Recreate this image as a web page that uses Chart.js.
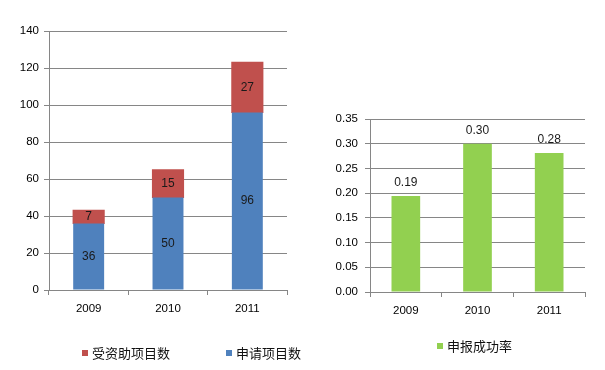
<!DOCTYPE html>
<html>
<head>
<meta charset="utf-8">
<script src="https://cdn.jsdelivr.net/npm/chart.js@4"></script>
<style>
  body { margin: 0; background: #fff; }
  #wrap { position: relative; width: 605px; height: 370px; overflow: hidden; }
  .box { position: absolute; }
  .leg { position: absolute; font-family: "Noto Sans CJK SC", sans-serif; font-size: 13px; color: #111; line-height: 16px; white-space: nowrap; }
  .sq { position: absolute; width: 6px; height: 6px; }
</style>
</head>
<body>
<div id="wrap">
  <div class="box" style="left:0;top:0;width:300px;height:370px;"><canvas id="chartLeft"></canvas></div>
  <div class="box" style="left:300px;top:100px;width:305px;height:270px;"><canvas id="chartRight"></canvas></div>

  <div class="sq" style="left:82px;top:350px;background:#c0504d;"></div>
  <div class="leg" style="left:92px;top:345px;">受资助项目数</div>
  <div class="sq" style="left:226px;top:350px;background:#4f81bd;"></div>
  <div class="leg" style="left:236px;top:345px;">申请项目数</div>

  <div class="sq" style="left:437px;top:343px;background:#92d050;"></div>
  <div class="leg" style="left:447px;top:338px;">申报成功率</div>
</div>
<script>
// 数据
const anos = ['2009', '2010', '2011'];
const projetosSolicitados = [36, 50, 96];   // 申请项目数
const projetosFinanciados = [7, 15, 27];    // 受资助项目数
const taxaSucesso = [0.194, 0.30, 0.281];   // 申报成功率

const corGrade = '#868686';
const fonteEixo = { family: 'Liberation Sans', size: 11.5 };

// rótulos dentro das barras empilhadas
const rotulosCentro = {
    id: 'rotulosCentro',
    afterDatasetsDraw(chart) {
        const ctx = chart.ctx;
        ctx.save();
        ctx.font = '12px "Liberation Sans"';
        ctx.fillStyle = '#1a1a1a';
        ctx.textAlign = 'center';
        ctx.textBaseline = 'middle';
        chart.data.datasets.forEach((ds, i) => {
            chart.getDatasetMeta(i).data.forEach((bar, j) => {
                ctx.fillText(String(ds.data[j]), bar.x, (bar.y + bar.base) / 2);
            });
        });
        ctx.restore();
    }
};

// rótulos acima das barras
const rotulosTopo = {
    id: 'rotulosTopo',
    afterDatasetsDraw(chart) {
        const ctx = chart.ctx;
        ctx.save();
        ctx.font = '12px "Liberation Sans"';
        ctx.fillStyle = '#1a1a1a';
        ctx.textAlign = 'center';
        ctx.textBaseline = 'middle';
        chart.getDatasetMeta(0).data.forEach((bar, j) => {
            ctx.fillText(chart.data.datasets[0].data[j].toFixed(2), bar.x, bar.y - 13);
        });
        ctx.restore();
    }
};

new Chart(document.getElementById('chartLeft'), {
    type: 'bar',
    data: {
        labels: anos,
        datasets: [
            { label: '申请项目数', data: projetosSolicitados, backgroundColor: '#4f81bd', inflateAmount: 0 },
            { label: '受资助项目数', data: projetosFinanciados, backgroundColor: '#c0504d', inflateAmount: 0.6 }
        ]
    },
    options: {
        responsive: true,
        maintainAspectRatio: false,
        animation: false,
        layout: { padding: { left: 0, right: 13, top: 31, bottom: 50 } },
        datasets: { bar: { categoryPercentage: 1, barPercentage: 0.39, borderWidth: 0 } },
        plugins: { legend: { display: false }, tooltip: { enabled: false } },
        scales: {
            x: {
                stacked: true,
                afterFit: s => { s.height = 30; },
                grid: { drawOnChartArea: false, drawTicks: true, tickLength: 5, color: corGrade, offset: true },
                border: { display: true, color: corGrade },
                ticks: { font: fonteEixo, color: '#000', padding: 7 }
            },
            y: {
                stacked: true,
                min: 0,
                max: 140,
                afterFit: s => { s.width = 49; },
                grid: { color: corGrade, tickLength: 5 },
                border: { display: true, color: corGrade },
                ticks: { stepSize: 20, font: fonteEixo, color: '#000', padding: 5 }
            }
        }
    },
    plugins: [rotulosCentro]
});

new Chart(document.getElementById('chartRight'), {
    type: 'bar',
    data: {
        labels: anos,
        datasets: [
            { label: '申报成功率', data: taxaSucesso, backgroundColor: '#92d050' }
        ]
    },
    options: {
        responsive: true,
        maintainAspectRatio: false,
        animation: false,
        layout: { padding: { left: 0, right: 20, top: 19, bottom: 48 } },
        datasets: { bar: { categoryPercentage: 1, barPercentage: 0.4 } },
        plugins: { legend: { display: false }, tooltip: { enabled: false } },
        scales: {
            x: {
                afterFit: s => { s.height = 30; },
                grid: { drawOnChartArea: false, drawTicks: true, tickLength: 5, color: corGrade, offset: true },
                border: { display: true, color: corGrade },
                ticks: { font: fonteEixo, color: '#000', padding: 7 }
            },
            y: {
                min: 0,
                max: 0.35,
                afterFit: s => { s.width = 70; },
                grid: { color: corGrade, tickLength: 5 },
                border: { display: true, color: corGrade },
                ticks: { stepSize: 0.05, font: fonteEixo, color: '#000', padding: 7, callback: v => v.toFixed(2) }
            }
        }
    },
    plugins: [rotulosTopo]
});
</script>
</body>
</html>
